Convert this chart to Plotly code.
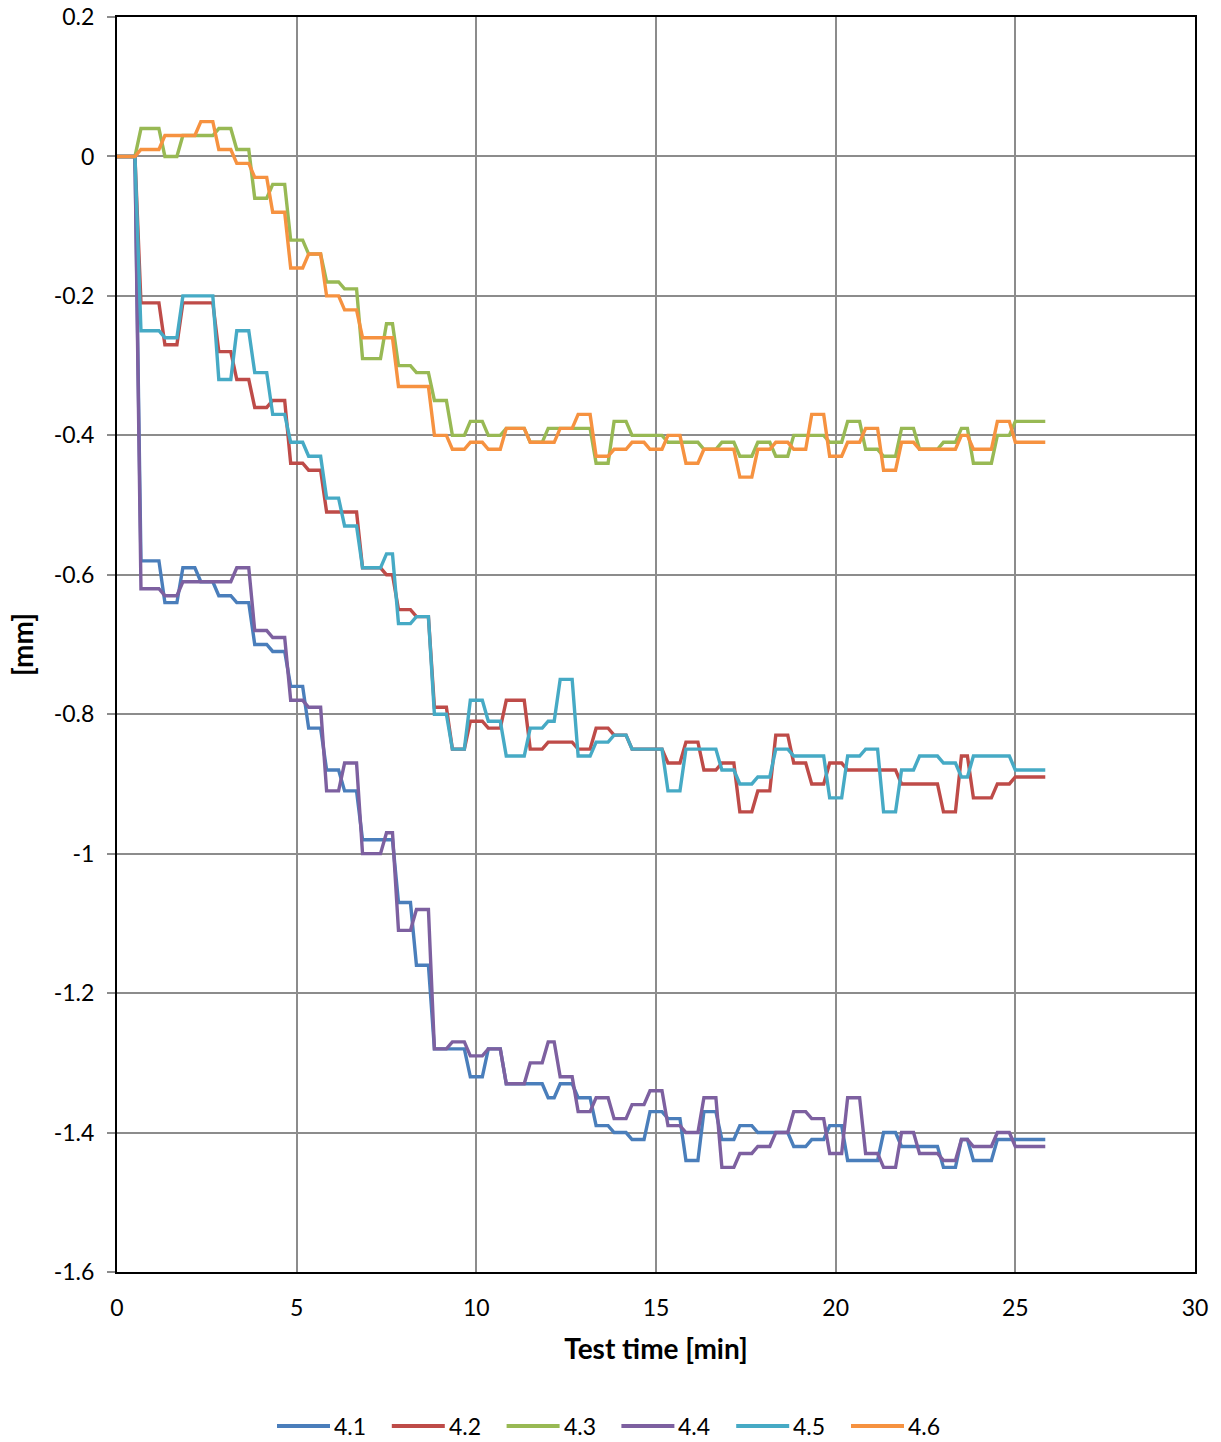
import plotly.graph_objects as go

# Displacement records sampled every 10 s (1/6 min).
# Each series: sample index where a new reading starts, and the reading held [mm].
SAMPLE_MIN = 10 / 60
LAST_SAMPLE = 155

s41_start = [0, 4, 8, 11, 14, 17, 20, 23, 26, 29, 32, 35, 38, 41, 47, 50, 53, 59, 62, 65,
             72, 74, 77, 80, 83, 86, 89, 92, 95, 98, 101, 104, 107, 113, 116, 119, 122, 128,
             131, 138, 141, 143, 147]
s41_val = [0, -0.58, -0.64, -0.59, -0.61, -0.63, -0.64, -0.70, -0.71, -0.76, -0.82, -0.88,
           -0.91, -0.98, -1.07, -1.16, -1.28, -1.32, -1.28, -1.33, -1.35, -1.33, -1.35, -1.39,
           -1.40, -1.41, -1.37, -1.38, -1.44, -1.37, -1.41, -1.39, -1.40, -1.42, -1.41, -1.39,
           -1.44, -1.40, -1.42, -1.45, -1.41, -1.44, -1.41]

s42_start = [0, 4, 8, 11, 17, 20, 23, 26, 29, 32, 35, 41, 45, 47, 50, 53, 56, 59, 62, 65,
             69, 72, 77, 80, 83, 86, 92, 95, 98, 101, 104, 107, 110, 113, 116, 119, 122, 131,
             138, 141, 143, 147, 150]
s42_val = [0, -0.21, -0.27, -0.21, -0.28, -0.32, -0.36, -0.35, -0.44, -0.45, -0.51, -0.59,
           -0.60, -0.65, -0.66, -0.79, -0.85, -0.81, -0.82, -0.78, -0.85, -0.84, -0.85, -0.82,
           -0.83, -0.85, -0.87, -0.84, -0.88, -0.87, -0.94, -0.91, -0.83, -0.87, -0.90, -0.87,
           -0.88, -0.90, -0.94, -0.86, -0.92, -0.90, -0.89]

s43_start = [0, 4, 8, 11, 17, 20, 23, 26, 29, 32, 35, 38, 41, 45, 47, 50, 53, 56, 59, 62,
             65, 69, 72, 80, 83, 86, 92, 98, 101, 104, 107, 110, 113, 119, 122, 125, 128, 131,
             134, 138, 141, 143, 147, 150]
s43_val = [0, 0.04, 0.00, 0.03, 0.04, 0.01, -0.06, -0.04, -0.12, -0.14, -0.18, -0.19, -0.29,
           -0.24, -0.30, -0.31, -0.35, -0.40, -0.38, -0.40, -0.39, -0.41, -0.39, -0.44, -0.38,
           -0.40, -0.41, -0.42, -0.41, -0.43, -0.41, -0.43, -0.40, -0.41, -0.38, -0.42, -0.43,
           -0.39, -0.42, -0.41, -0.39, -0.44, -0.40, -0.38]

s44_start = [0, 4, 8, 11, 20, 23, 26, 29, 32, 35, 38, 41, 45, 47, 50, 53, 56, 59, 62, 65,
             69, 72, 74, 77, 80, 83, 86, 89, 92, 95, 98, 101, 104, 107, 110, 113, 116, 119,
             122, 125, 128, 131, 134, 138, 141, 143, 147, 150]
s44_val = [0, -0.62, -0.63, -0.61, -0.59, -0.68, -0.69, -0.78, -0.79, -0.91, -0.87, -1.00,
           -0.97, -1.11, -1.08, -1.28, -1.27, -1.29, -1.28, -1.33, -1.30, -1.27, -1.32, -1.37,
           -1.35, -1.38, -1.36, -1.34, -1.39, -1.40, -1.35, -1.45, -1.43, -1.42, -1.40, -1.37,
           -1.38, -1.43, -1.35, -1.43, -1.45, -1.40, -1.43, -1.44, -1.41, -1.42, -1.40, -1.42]

s45_start = [0, 4, 8, 11, 17, 20, 23, 26, 29, 32, 35, 38, 41, 45, 47, 50, 53, 56, 59, 62,
             65, 69, 72, 74, 77, 80, 83, 86, 92, 95, 101, 104, 107, 110, 113, 119, 122, 125,
             128, 131, 134, 138, 141, 143, 150]
s45_val = [0, -0.25, -0.26, -0.20, -0.32, -0.25, -0.31, -0.37, -0.41, -0.43, -0.49, -0.53,
           -0.59, -0.57, -0.67, -0.66, -0.80, -0.85, -0.78, -0.81, -0.86, -0.82, -0.81, -0.75,
           -0.86, -0.84, -0.83, -0.85, -0.91, -0.85, -0.88, -0.90, -0.89, -0.85, -0.86, -0.92,
           -0.86, -0.85, -0.94, -0.88, -0.86, -0.87, -0.89, -0.86, -0.88]

s46_start = [0, 4, 8, 14, 17, 20, 23, 26, 29, 32, 35, 38, 41, 47, 53, 56, 59, 62, 65, 69,
             74, 77, 80, 83, 86, 89, 92, 95, 98, 104, 107, 110, 113, 116, 119, 122, 125, 128,
             131, 134, 141, 143, 147, 150]
s46_val = [0, 0.01, 0.03, 0.05, 0.01, -0.01, -0.03, -0.08, -0.16, -0.14, -0.20, -0.22, -0.26,
           -0.33, -0.40, -0.42, -0.41, -0.42, -0.39, -0.41, -0.39, -0.37, -0.43, -0.42, -0.41,
           -0.42, -0.40, -0.44, -0.42, -0.46, -0.42, -0.41, -0.42, -0.37, -0.43, -0.41, -0.39,
           -0.45, -0.41, -0.42, -0.40, -0.42, -0.38, -0.41]

series_names = ["4.1", "4.2", "4.3", "4.4", "4.5", "4.6"]
series_data = [(s41_start, s41_val), (s42_start, s42_val), (s43_start, s43_val),
               (s44_start, s44_val), (s45_start, s45_val), (s46_start, s46_val)]
colors = ["#4a7ebb", "#be4b48", "#98b954", "#7d60a0", "#46aac5", "#f69240"]

y_ticks = [0.2, 0, -0.2, -0.4, -0.6, -0.8, -1, -1.2, -1.4, -1.6]
y_tick_text = ["0.2", "0", "-0.2", "-0.4", "-0.6", "-0.8", "-1", "-1.2", "-1.4", "-1.6"]
x_ticks = [0, 5, 10, 15, 20, 25, 30]

FONT = "Lato, 'Open Sans', sans-serif"


def held_points(starts, vals):
    """Polyline vertices: first and last sample of every held reading."""
    xs, ys = [], []
    ends = [s - 1 for s in starts[1:]] + [LAST_SAMPLE]
    for s, e, v in zip(starts, ends, vals):
        xs.append(s * SAMPLE_MIN)
        ys.append(v)
        if e != s:
            xs.append(e * SAMPLE_MIN)
            ys.append(v)
    return xs, ys


fig = go.Figure()
for name, (st, vl), col in zip(series_names, series_data, colors):
    xs, ys = held_points(st, vl)
    fig.add_trace(go.Scatter(x=xs, y=ys, mode="lines", name=name,
                             line=dict(color=col, width=3.4), showlegend=False))

# Legend row below the axis title
W_PLOT, H_PLOT, L, B = 1078, 1255, 117, 1272
def px_x(px):
    return (px - L) / W_PLOT
def px_y(py):
    return (B - py) / H_PLOT

leg_y = 1426
for i, (name, col) in enumerate(zip(series_names, colors)):
    x0 = 277 + 114.8 * i
    fig.add_shape(type="line", xref="paper", yref="paper",
                  x0=px_x(x0), x1=px_x(x0 + 53), y0=px_y(leg_y), y1=px_y(leg_y),
                  line=dict(color=col, width=4))
    fig.add_annotation(xref="paper", yref="paper", x=px_x(x0 + 55), y=px_y(leg_y),
                       text=name, showarrow=False, xanchor="left", yanchor="middle",
                       font=dict(family=FONT, size=23, color="#000000"))

fig.update_layout(
    width=1221, height=1442,
    margin=dict(l=117, r=26, t=17, b=170),
    paper_bgcolor="white", plot_bgcolor="white",
    font=dict(family=FONT, size=23, color="#000000"),
    showlegend=False,
)
fig.update_xaxes(
    range=[0, 30], tickvals=x_ticks, ticks="", ticklabelstandoff=14, automargin=False,
    showgrid=True, gridcolor="#8c8c8c", gridwidth=2, zeroline=False,
    showline=True, linecolor="#000000", linewidth=2, mirror=True,
    tickfont=dict(family=FONT, size=23),
    title=dict(text="<b>Test time [min]</b>", font=dict(family=FONT, size=28), standoff=20),
)
fig.update_yaxes(
    range=[-1.6, 0.2], tickvals=y_ticks, ticktext=y_tick_text, automargin=False,
    ticks="outside", ticklen=8, tickcolor="#8c8c8c", tickwidth=2, ticklabelstandoff=8,
    showgrid=True, gridcolor="#8c8c8c", gridwidth=2, zeroline=False,
    showline=True, linecolor="#000000", linewidth=2, mirror=True,
    tickfont=dict(family=FONT, size=23),
    title=dict(text="<b>[mm]</b>", font=dict(family=FONT, size=28), standoff=12),
)

fig.write_html("out.html")
